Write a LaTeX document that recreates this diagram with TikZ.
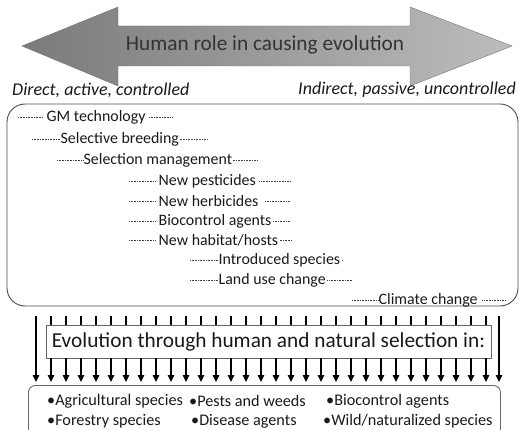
\documentclass[tikz,border=0pt]{standalone}
\usepackage{fontspec}
\setmainfont{Carlito}
\usetikzlibrary{arrows.meta}

\begin{document}
\begin{tikzpicture}[x=1pt,y=-1pt,>={Triangle[width=6.5pt,length=7pt]},
  leader/.style={draw=black!75,line width=0.7pt,dash pattern=on 0.7pt off 0.9pt},
  cause/.style={anchor=west,inner sep=0.5pt,text=black!90,font=\fontsize{15.9}{18}\selectfont},
  group/.style={anchor=west,inner sep=0pt,text=black!90,font=\fontsize{16.2}{18}\selectfont},
  side/.style={inner sep=0pt,text=black!90,font=\fontsize{18}{20}\selectfont\itshape},
  flow/.style={line width=1.1pt,black}]
  \useasboundingbox (0,0) rectangle (524,430);
  % Parameters
  \def\tipL{22}     % left arrow tip
  \def\tipR{512}    % right arrow tip
  \def\headL{118}   % back of left head
  \def\headR{410}   % back of right head
  \def\yMid{46}
  % Double arrow of the human role
  \draw[draw=black!55,left color=black!52,right color=black!26]
    (\tipL,\yMid) -- (\headL,7) -- (\headL,26) -- (\headR,26) -- (\headR,7) -- (\tipR,\yMid)
    -- (\headR,86) -- (\headR,66) -- (\headL,66) -- (\headL,86) -- cycle;
  \node[font=\fontsize{21.3}{24}\selectfont,text=black!80] (role) at (265,45) {Human role in causing evolution};
  % Ends of the scale
  \node[side,anchor=west] (direct) at (12,90) {Direct, active, controlled};
  \node[side,anchor=east] (indirect) at (516,90) {Indirect, passive, uncontrolled};
  % Box of causes
  \node[draw=black!70,line width=0.9pt,rounded corners=18pt,minimum width=511,minimum height=202,inner sep=0pt] (causes) at (262.5,205) {};
  % Causes with dotted leaders
  \foreach \name/\txt/\x/\y/\xl/\gl/\gr/\xr in {gm/GM technology/46/117/18/3/3/172,
    sb/Selective breeding/60/139/32/0/0/207, sm/Selection management/83/160/57/0/0/258,
    np/New pesticides/158/181/129/3/3/290, nh/New herbicides/158/201/129/3/6/290,
    bc/Biocontrol agents/158/221/129/3/1/290, nhh/{New habitat/hosts}/158/240/129/3/1/292,
    is/Introduced species/218/260/190/0/1/343, lu/Land use change/218/280/190/0/1/352,
    cc/Climate change/378/300/352/0/4/505}
  {\node[cause] (\name) at (\x,\y) {\txt};
   \coordinate (\name-l) at (\xl,\y);
   \coordinate (\name-r) at (\xr,\y);
   \draw[leader,shorten >=\gl pt] (\name-l) -- (\name.west);
   \draw[leader,shorten <=\gr pt] (\name.east) -- (\name-r);}
  % Evolution box
  \node[draw=black!60,line width=0.9pt,minimum width=445,minimum height=33,inner sep=0pt,
    font=\fontsize{21.3}{24}\selectfont,text=black!90] (evo) at (268.5,341.5) {Evolution through human and natural selection in:};
  % Box of the groups
  \node[draw=black!60,line width=0.9pt,rounded corners=7pt,anchor=north west,minimum width=472,minimum height=50,inner sep=0pt] (groups) at (28,385) {};
  \foreach \name/\txt/\x/\y in {agr/•Agricultural species/47/401, pest/•Pests and weeds/189/401,
    bio/•Biocontrol agents/326/401, frst/•Forestry species/47/421, dis/•Disease agents/191/421,
    wild/{•Wild/naturalized species}/323/421}
  {\node[group] (\name) at (\x,\y) {\txt};}
  % Short arrows through the evolution box
  \foreach \i in {0,...,29}
  {\coordinate (s\i) at (51+15*\i,316);
   \draw[flow] (s\i) -- (s\i |- evo.north);
   \draw[flow,->,shorten >=3pt] (s\i |- evo.south) -- (s\i |- groups.north);}
  % Long arrows at the sides
  \foreach \x/\name in {36/longL,499/longR}
  {\coordinate (\name) at (\x,316);
   \draw[flow,->,shorten >=3pt] (\name) -- (\name |- groups.north);}
\end{tikzpicture}
\end{document}
